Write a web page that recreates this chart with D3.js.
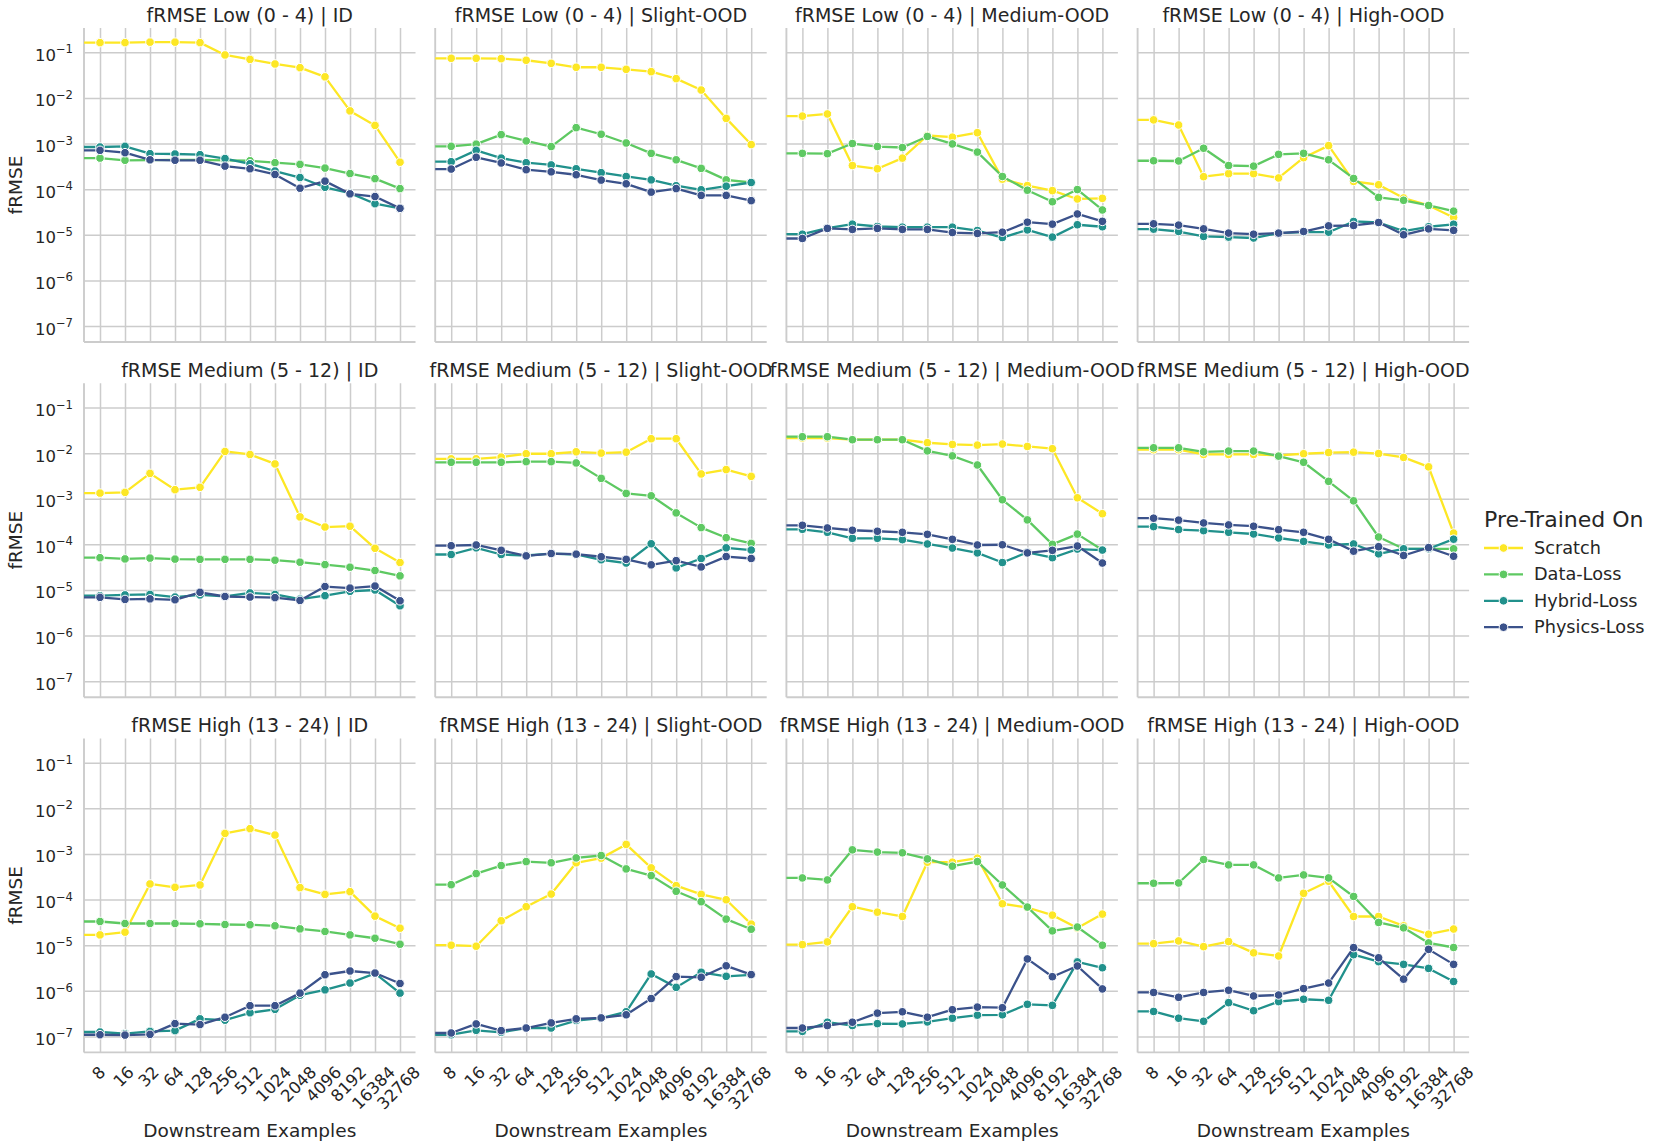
<!DOCTYPE html>
<html>
<head>
<meta charset="utf-8">
<script src="https://cdn.jsdelivr.net/npm/d3@7"></script>
<style>
  body { margin: 0; background: #ffffff; }
  svg { display: block; }
  text { font-family: "DejaVu Sans", sans-serif; fill: #262626; }
</style>
</head>
<body>
<svg id="chart" width="1661" height="1148"></svg>
<script>
// ---------------- DATA ----------------
const examples = [8, 16, 32, 64, 128, 256, 512, 1024, 2048, 4096, 8192, 16384, 32768];
const exampleLabels = ["8", "16", "32", "64", "128", "256", "512", "1024", "2048", "4096", "8192", "16384", "32768"];
const seriesNames = ["Scratch", "Data-Loss", "Hybrid-Loss", "Physics-Loss"];
const seriesColors = ["#fde725", "#5ec962", "#21918c", "#3b528b"];
const rowNames = ["fRMSE Low (0 - 4)", "fRMSE Medium (5 - 12)", "fRMSE High (13 - 24)"];
const colNames = ["ID", "Slight-OOD", "Medium-OOD", "High-OOD"];
const yTickExponents = [-1, -2, -3, -4, -5, -6, -7];

// Low (0 - 4)
const lowID_Scratch = [0.163, 0.163, 0.167, 0.167, 0.163, 0.0875, 0.070, 0.0555, 0.046, 0.029, 0.0052, 0.0025, 3.9e-4];
const lowID_Data    = [4.8e-4, 4.3e-4, 4.35e-4, 4.4e-4, 4.4e-4, 4.3e-4, 4.2e-4, 3.8e-4, 3.5e-4, 2.9e-4, 2.2e-4, 1.7e-4, 1.03e-4];
const lowID_Hybrid  = [8.4e-4, 8.7e-4, 6.0e-4, 5.9e-4, 5.7e-4, 4.7e-4, 3.6e-4, 2.5e-4, 1.8e-4, 1.1e-4, 8.2e-5, 4.8e-5, 3.8e-5];
const lowID_Physics = [7.1e-4, 6.3e-4, 4.4e-4, 4.3e-4, 4.3e-4, 3.2e-4, 2.8e-4, 2.1e-4, 1.05e-4, 1.5e-4, 7.9e-5, 6.9e-5, 3.8e-5];

const lowSlight_Scratch = [0.074, 0.074, 0.0726, 0.067, 0.0574, 0.047, 0.047, 0.0424, 0.0377, 0.0265, 0.0149, 0.00356, 9.5e-4];
const lowSlight_Data    = [8.7e-4, 9.7e-4, 1.57e-3, 1.14e-3, 8.6e-4, 2.23e-3, 1.6e-3, 1.03e-3, 6.1e-4, 4.4e-4, 2.86e-4, 1.6e-4, 1.4e-4];
const lowSlight_Hybrid  = [4.0e-4, 7.1e-4, 4.8e-4, 3.8e-4, 3.4e-4, 2.8e-4, 2.3e-4, 1.9e-4, 1.6e-4, 1.19e-4, 9.7e-5, 1.16e-4, 1.4e-4];
const lowSlight_Physics = [2.76e-4, 5.0e-4, 3.75e-4, 2.67e-4, 2.4e-4, 2.07e-4, 1.58e-4, 1.31e-4, 8.6e-5, 1.03e-4, 7.3e-5, 7.3e-5, 5.6e-5];

const lowMedium_Scratch = [4.0e-3, 4.45e-3, 3.3e-4, 2.8e-4, 4.8e-4, 1.5e-3, 1.38e-3, 1.73e-3, 1.66e-4, 1.2e-4, 9.3e-5, 6.1e-5, 6.3e-5];
const lowMedium_Data    = [6.1e-4, 6.0e-4, 1.0e-3, 8.6e-4, 8.2e-4, 1.43e-3, 9.8e-4, 6.5e-4, 1.9e-4, 9.5e-5, 5.3e-5, 9.8e-5, 3.5e-5];
const lowMedium_Hybrid  = [1.03e-5, 1.4e-5, 1.71e-5, 1.52e-5, 1.47e-5, 1.47e-5, 1.47e-5, 1.24e-5, 8.7e-6, 1.28e-5, 8.9e-6, 1.66e-5, 1.5e-5];
const lowMedium_Physics = [8.3e-6, 1.38e-5, 1.31e-5, 1.38e-5, 1.31e-5, 1.31e-5, 1.12e-5, 1.07e-5, 1.14e-5, 1.89e-5, 1.71e-5, 2.86e-5, 1.97e-5];

const lowHigh_Scratch = [3.3e-3, 2.55e-3, 1.88e-4, 2.19e-4, 2.19e-4, 1.76e-4, 4.9e-4, 9.0e-4, 1.48e-4, 1.25e-4, 6.4e-5, 4.4e-5, 2.4e-5];
const lowHigh_Data    = [4.2e-4, 4.15e-4, 7.9e-4, 3.3e-4, 3.2e-4, 5.8e-4, 6.1e-4, 4.4e-4, 1.72e-4, 6.6e-5, 5.7e-5, 4.4e-5, 3.3e-5];
const lowHigh_Hybrid  = [1.33e-5, 1.18e-5, 9.2e-6, 8.9e-6, 8.5e-6, 1.09e-5, 1.14e-5, 1.14e-5, 1.96e-5, 1.86e-5, 1.2e-5, 1.5e-5, 1.7e-5];
const lowHigh_Physics = [1.74e-5, 1.63e-5, 1.35e-5, 1.09e-5, 1.03e-5, 1.09e-5, 1.18e-5, 1.57e-5, 1.6e-5, 1.86e-5, 1.0e-5, 1.35e-5, 1.25e-5];

// Medium (5 - 12)
const medID_Scratch = [1.33e-3, 1.38e-3, 3.6e-3, 1.58e-3, 1.78e-3, 1.09e-2, 9.35e-3, 5.8e-3, 4.0e-4, 2.4e-4, 2.5e-4, 8.2e-5, 4.0e-5];
const medID_Data    = [5.1e-5, 4.8e-5, 5.0e-5, 4.75e-5, 4.7e-5, 4.7e-5, 4.7e-5, 4.5e-5, 4.07e-5, 3.6e-5, 3.16e-5, 2.67e-5, 2.04e-5];
const medID_Hybrid  = [7.5e-6, 7.8e-6, 8.0e-6, 7.0e-6, 7.8e-6, 7.25e-6, 8.6e-6, 8.0e-6, 6.3e-6, 7.5e-6, 9.35e-6, 1.0e-5, 4.5e-6];
const medID_Physics = [6.9e-6, 6.2e-6, 6.4e-6, 6.1e-6, 8.9e-6, 7.2e-6, 7.0e-6, 6.8e-6, 5.9e-6, 1.19e-5, 1.1e-5, 1.22e-5, 5.8e-6];

const medSlight_Scratch = [7.5e-3, 7.5e-3, 8.2e-3, 9.7e-3, 9.7e-3, 1.07e-2, 1.0e-2, 1.05e-2, 2.07e-2, 2.07e-2, 3.5e-3, 4.36e-3, 3.1e-3];
const medSlight_Data    = [6.3e-3, 6.3e-3, 6.3e-3, 6.5e-3, 6.5e-3, 6.1e-3, 2.8e-3, 1.31e-3, 1.16e-3, 4.9e-4, 2.33e-4, 1.4e-4, 1.05e-4];
const medSlight_Hybrid  = [6.0e-5, 8.4e-5, 6.0e-5, 5.7e-5, 6.3e-5, 6.0e-5, 4.6e-5, 3.9e-5, 1.03e-4, 3.05e-5, 4.9e-5, 8.4e-5, 7.5e-5];
const medSlight_Physics = [9.35e-5, 9.7e-5, 7.4e-5, 5.6e-5, 6.3e-5, 6.1e-5, 5.35e-5, 4.7e-5, 3.56e-5, 4.4e-5, 3.2e-5, 5.4e-5, 4.9e-5];

const medMedium_Scratch = [2.14e-2, 2.14e-2, 1.97e-2, 1.97e-2, 1.97e-2, 1.69e-2, 1.55e-2, 1.5e-2, 1.58e-2, 1.4e-2, 1.25e-2, 1.05e-3, 4.7e-4];
const medMedium_Data    = [2.29e-2, 2.29e-2, 1.97e-2, 1.97e-2, 1.97e-2, 1.12e-2, 8.7e-3, 5.5e-3, 9.5e-4, 3.44e-4, 1.0e-4, 1.68e-4, 7.5e-5];
const medMedium_Hybrid  = [2.14e-4, 1.84e-4, 1.36e-4, 1.36e-4, 1.27e-4, 1.02e-4, 8.3e-5, 6.5e-5, 4.0e-5, 6.7e-5, 5.1e-5, 7.9e-5, 7.5e-5];
const medMedium_Physics = [2.62e-4, 2.29e-4, 2.04e-4, 1.94e-4, 1.84e-4, 1.66e-4, 1.29e-4, 9.7e-5, 9.8e-5, 6.5e-5, 7.4e-5, 9.2e-5, 3.9e-5];

const medHigh_Scratch = [1.19e-2, 1.19e-2, 9.35e-3, 9.35e-3, 9.35e-3, 8.9e-3, 9.7e-3, 1.03e-2, 1.05e-2, 9.8e-3, 8.05e-3, 5.0e-3, 1.77e-4];
const medHigh_Data    = [1.31e-2, 1.31e-2, 1.07e-2, 1.11e-2, 1.11e-2, 8.6e-3, 6.3e-3, 2.41e-3, 9.0e-4, 1.45e-4, 8.0e-5, 8.0e-5, 8.0e-5];
const medHigh_Hybrid  = [2.45e-4, 2.11e-4, 2.0e-4, 1.84e-4, 1.69e-4, 1.38e-4, 1.16e-4, 9.7e-5, 1.02e-4, 6.2e-5, 8.0e-5, 8.0e-5, 1.3e-4];
const medHigh_Physics = [3.75e-4, 3.4e-4, 2.95e-4, 2.67e-4, 2.5e-4, 2.1e-4, 1.84e-4, 1.29e-4, 7.1e-5, 8.9e-5, 5.7e-5, 8.5e-5, 5.5e-5];

// High (13 - 24)
const highID_Scratch = [1.68e-5, 1.93e-5, 2.2e-4, 1.86e-4, 2.09e-4, 2.82e-3, 3.58e-3, 2.6e-3, 1.83e-4, 1.3e-4, 1.49e-4, 4.34e-5, 2.36e-5];
const highID_Data    = [3.31e-5, 2.99e-5, 2.99e-5, 2.99e-5, 2.94e-5, 2.84e-5, 2.8e-5, 2.66e-5, 2.28e-5, 2.0e-5, 1.68e-5, 1.42e-5, 1.05e-5];
const highID_Hybrid  = [1.25e-7, 1.15e-7, 1.29e-7, 1.34e-7, 2.43e-7, 2.27e-7, 3.3e-7, 3.92e-7, 8.0e-7, 1.05e-6, 1.48e-6, 2.41e-6, 8.9e-7];
const highID_Physics = [1.09e-7, 1.07e-7, 1.11e-7, 1.91e-7, 1.82e-7, 2.64e-7, 4.72e-7, 4.72e-7, 8.9e-7, 2.25e-6, 2.72e-6, 2.45e-6, 1.45e-6];

const highSlight_Scratch = [1.0e-5, 9.5e-6, 3.43e-5, 6.97e-5, 1.32e-4, 6.4e-4, 8.1e-4, 1.62e-3, 4.95e-4, 2.02e-4, 1.3e-4, 9.9e-5, 2.9e-5];
const highSlight_Data    = [2.12e-4, 3.71e-4, 5.57e-4, 6.8e-4, 6.4e-4, 8.2e-4, 9.25e-4, 4.7e-4, 3.35e-4, 1.52e-4, 8.97e-5, 3.73e-5, 2.24e-5];
const highSlight_Hybrid  = [1.09e-7, 1.36e-7, 1.23e-7, 1.53e-7, 1.53e-7, 2.23e-7, 2.51e-7, 3.47e-7, 2.34e-6, 1.19e-6, 2.55e-6, 2.08e-6, 2.23e-6];
const highSlight_Physics = [1.19e-7, 1.88e-7, 1.34e-7, 1.53e-7, 1.98e-7, 2.43e-7, 2.55e-7, 2.98e-7, 6.76e-7, 2.05e-6, 1.98e-6, 3.53e-6, 2.27e-6];

const highMedium_Scratch = [1.03e-5, 1.18e-5, 6.97e-5, 5.3e-5, 4.26e-5, 6.6e-4, 6.6e-4, 8.1e-4, 8.1e-5, 6.7e-5, 4.56e-5, 2.38e-5, 4.8e-5];
const highMedium_Data    = [2.98e-4, 2.69e-4, 1.23e-3, 1.1e-3, 1.06e-3, 7.8e-4, 5.4e-4, 6.8e-4, 2.09e-4, 6.85e-5, 2.06e-5, 2.5e-5, 1.0e-5];
const highMedium_Hybrid  = [1.29e-7, 2.05e-7, 1.73e-7, 1.91e-7, 1.88e-7, 2.08e-7, 2.51e-7, 2.93e-7, 2.98e-7, 5.06e-7, 4.8e-7, 4.3e-6, 3.2e-6];
const highMedium_Physics = [1.53e-7, 1.73e-7, 2.05e-7, 3.24e-7, 3.47e-7, 2.64e-7, 3.85e-7, 4.4e-7, 4.26e-7, 5.0e-6, 2.04e-6, 3.5e-6, 1.1e-6];

const highHigh_Scratch = [1.08e-5, 1.24e-5, 9.3e-6, 1.2e-5, 6.8e-6, 5.8e-6, 1.37e-4, 2.52e-4, 4.26e-5, 4.26e-5, 2.65e-5, 1.74e-5, 2.26e-5];
const highHigh_Data    = [2.28e-4, 2.31e-4, 7.55e-4, 5.76e-4, 5.76e-4, 2.98e-4, 3.47e-4, 2.98e-4, 1.17e-4, 3.15e-5, 2.4e-5, 1.12e-5, 8.9e-6];
const highHigh_Hybrid  = [3.53e-7, 2.51e-7, 2.15e-7, 5.5e-7, 3.66e-7, 5.8e-7, 6.53e-7, 6.2e-7, 6.2e-6, 4.36e-6, 3.8e-6, 3.1e-6, 1.6e-6];
const highHigh_Physics = [9.2e-7, 7.2e-7, 9.2e-7, 1.03e-6, 7.7e-7, 8.1e-7, 1.12e-6, 1.48e-6, 8.85e-6, 5.3e-6, 1.8e-6, 8.1e-6, 3.8e-6];

// panel table: rows x cols, each a list of series in seriesNames order
const panelSeries = [
  [
    [lowID_Scratch, lowID_Data, lowID_Hybrid, lowID_Physics],
    [lowSlight_Scratch, lowSlight_Data, lowSlight_Hybrid, lowSlight_Physics],
    [lowMedium_Scratch, lowMedium_Data, lowMedium_Hybrid, lowMedium_Physics],
    [lowHigh_Scratch, lowHigh_Data, lowHigh_Hybrid, lowHigh_Physics]
  ],
  [
    [medID_Scratch, medID_Data, medID_Hybrid, medID_Physics],
    [medSlight_Scratch, medSlight_Data, medSlight_Hybrid, medSlight_Physics],
    [medMedium_Scratch, medMedium_Data, medMedium_Hybrid, medMedium_Physics],
    [medHigh_Scratch, medHigh_Data, medHigh_Hybrid, medHigh_Physics]
  ],
  [
    [highID_Scratch, highID_Data, highID_Hybrid, highID_Physics],
    [highSlight_Scratch, highSlight_Data, highSlight_Hybrid, highSlight_Physics],
    [highMedium_Scratch, highMedium_Data, highMedium_Hybrid, highMedium_Physics],
    [highHigh_Scratch, highHigh_Data, highHigh_Hybrid, highHigh_Physics]
  ]
];

// ---------------- LAYOUT ----------------
const svg = d3.select("#chart");
svg.append("rect").attr("width", 1661).attr("height", 1148).attr("fill", "#ffffff");

const left0 = 84, colStep = 351.2, axW = 331.5;
const top0 = 28, rowStep = 355.2, axH = 314;
const gridColor = "#cccccc";

const x = d3.scaleLog().base(2).domain([examples[0], examples[examples.length - 1]]).range([16, axW - 15.5]);
const y = d3.scaleLog().domain([Math.pow(10, -7.35), Math.pow(10, -0.467)]).range([axH, 0]);

const defs = svg.append("defs");
defs.append("clipPath").attr("id", "axclip")
  .append("rect").attr("x", 0).attr("y", 0).attr("width", axW).attr("height", axH);

const line = d3.line().x(d => d[0]).y(d => d[1]);

for (let r = 0; r < 3; r++) {
  for (let c = 0; c < 4; c++) {
    const g = svg.append("g").attr("transform", `translate(${left0 + c * colStep},${top0 + r * rowStep})`);

    // grid
    const yGrid = g.append("g").call(d3.axisLeft(y).tickValues(yTickExponents.map(e => Math.pow(10, e))).tickSize(-axW).tickFormat(""));
    const xGrid = g.append("g").attr("transform", `translate(0,${axH})`)
      .call(d3.axisBottom(x).tickValues(examples).tickSize(-axH).tickFormat(""));
    [yGrid, xGrid].forEach(a => {
      a.select(".domain").remove();
      a.selectAll(".tick line").attr("stroke", gridColor).attr("stroke-width", 1.5);
    });

    // spines
    g.append("line").attr("x1", 0).attr("x2", 0).attr("y1", 0).attr("y2", axH)
      .attr("stroke", gridColor).attr("stroke-width", 1.9);
    g.append("line").attr("x1", 0).attr("x2", axW).attr("y1", axH).attr("y2", axH)
      .attr("stroke", gridColor).attr("stroke-width", 1.9);

    // title
    g.append("text").attr("x", axW / 2).attr("y", -6.5).attr("text-anchor", "middle")
      .attr("font-size", 19).text(`${rowNames[r]} | ${colNames[c]}`);

    // series
    const plot = g.append("g").attr("clip-path", "url(#axclip)");
    panelSeries[r][c].forEach((vals, si) => {
      const pts = vals.map((v, i) => [x(examples[i]), y(v)]);
      // the line begins at the axes edge, level with the first point
      const path = [[0, pts[0][1]]].concat(pts);
      plot.append("path").attr("d", line(path)).attr("fill", "none")
        .attr("stroke", seriesColors[si]).attr("stroke-width", 2.3)
        .attr("stroke-linejoin", "round").attr("stroke-linecap", "round");
      plot.selectAll(null).data(pts).enter().append("circle")
        .attr("cx", d => d[0]).attr("cy", d => d[1]).attr("r", 4.3)
        .attr("fill", seriesColors[si]).attr("stroke", "#ffffff").attr("stroke-width", 1);
    });

    // y tick labels (first column)
    if (c === 0) {
      yTickExponents.forEach(e => {
        const t = g.append("text").attr("x", -11).attr("y", y(Math.pow(10, e)) + 8.5)
          .attr("text-anchor", "end").attr("font-size", 16.5);
        t.append("tspan").text("10");
        t.append("tspan").attr("dy", -7.5).attr("font-size", 11.6).text("\u2212" + Math.abs(e));
      });
      g.append("text").attr("transform", `translate(${-68},${axH / 2}) rotate(-90)`)
        .attr("text-anchor", "middle").attr("dy", "0.35em").attr("font-size", 18.5).text("fRMSE");
    }

    // x tick labels (bottom row)
    if (r === 2) {
      const fs = 16.5, h = fs * 1.16, pad = 10;
      examples.forEach((ex, i) => {
        const t = g.append("text").attr("text-anchor", "middle").attr("dy", "0.35em")
          .attr("font-size", fs).text(exampleLabels[i]);
        const w = t.node().getComputedTextLength();
        const bh = (w + h) / Math.SQRT2;
        t.attr("transform", `translate(${x(ex) - 1.5},${axH + pad + bh / 2}) rotate(-45)`);
      });
      g.append("text").attr("x", axW / 2).attr("y", axH + 85).attr("text-anchor", "middle")
        .attr("font-size", 18.5).text("Downstream Examples");
    }
  }
}

// ---------------- LEGEND ----------------
const lg = svg.append("g").attr("transform", "translate(1484,0)");
lg.append("text").attr("x", 0).attr("y", 527).attr("font-size", 22).text("Pre-Trained On");
seriesNames.forEach((name, i) => {
  const cy = 548 + i * 26.4;
  lg.append("line").attr("x1", 0).attr("x2", 39).attr("y1", cy).attr("y2", cy)
    .attr("stroke", seriesColors[i]).attr("stroke-width", 2.3);
  lg.append("circle").attr("cx", 19.5).attr("cy", cy).attr("r", 4.3)
    .attr("fill", seriesColors[i]).attr("stroke", "#ffffff").attr("stroke-width", 1);
  lg.append("text").attr("x", 50).attr("y", cy + 6).attr("font-size", 17.7).text(name);
});
</script>
</body>
</html>
